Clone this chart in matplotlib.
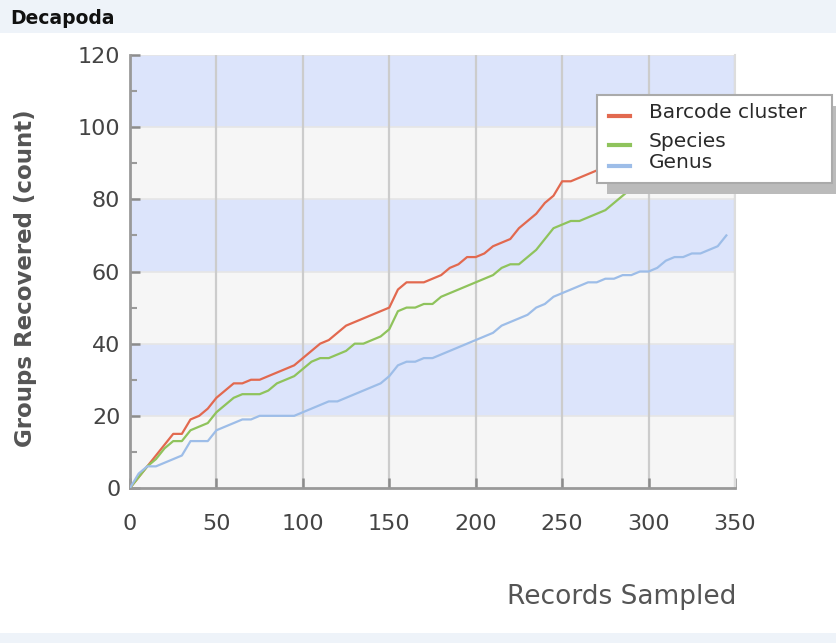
#!/usr/bin/python3

"""
Decapoda accumulation curves: groups recovered vs records sampled.
"""

import matplotlib
matplotlib.use("Agg")
import matplotlib.pyplot as plt
from matplotlib.lines import Line2D
from matplotlib.patches import Rectangle


# Records sampled, every 5 records.
records = list(range(0, 350, 5))

barcode_cluster = [
    0, 3, 6, 9, 12, 15, 15, 19, 20, 22,
    25, 27, 29, 29, 30, 30, 31, 32, 33, 34,
    36, 38, 40, 41, 43, 45, 46, 47, 48, 49,
    50, 55, 57, 57, 57, 58, 59, 61, 62, 64,
    64, 65, 67, 68, 69, 72, 74, 76, 79, 81,
    85, 85, 86, 87, 88, 89, 90, 92, 93, 94,
    95, 97, 98, 99, 100, 101, 102, 103, 104, 105,
]
species = [
    0, 3, 6, 8, 11, 13, 13, 16, 17, 18,
    21, 23, 25, 26, 26, 26, 27, 29, 30, 31,
    33, 35, 36, 36, 37, 38, 40, 40, 41, 42,
    44, 49, 50, 50, 51, 51, 53, 54, 55, 56,
    57, 58, 59, 61, 62, 62, 64, 66, 69, 72,
    73, 74, 74, 75, 76, 77, 79, 81, 83, 86,
    87, 88, 89, 90, 91, 91, 92, 93, 94, 95,
]
genus = [
    0, 4, 6, 6, 7, 8, 9, 13, 13, 13,
    16, 17, 18, 19, 19, 20, 20, 20, 20, 20,
    21, 22, 23, 24, 24, 25, 26, 27, 28, 29,
    31, 34, 35, 35, 36, 36, 37, 38, 39, 40,
    41, 42, 43, 45, 46, 47, 48, 50, 51, 53,
    54, 55, 56, 57, 57, 58, 58, 59, 59, 60,
    60, 61, 63, 64, 64, 65, 65, 66, 67, 70,
]

series_names = ["Barcode cluster", "Species", "Genus"]
series_colors = ["#e2694f", "#8fc35c", "#9dbde8"]

x_ticks = [0, 50, 100, 150, 200, 250, 300, 350]
y_ticks = [0, 20, 40, 60, 80, 100, 120]

W, H = 836, 643


def fx(px):
    return px / W


def fy(py):
    return 1 - py / H


def draw_frame(fig):
    # light header and footer strips
    fig.patches.append(Rectangle((0, fy(33)), 1, 33 / H, transform=fig.transFigure,
                                 facecolor="#eef3f9", edgecolor="none", zorder=0))
    fig.patches.append(Rectangle((0, 0), 1, 10 / H, transform=fig.transFigure,
                                 facecolor="#eef3f9", edgecolor="none", zorder=0))
    fig.text(fx(10), fy(18), "Decapoda", fontsize=13.5, fontweight="bold",
             color="#111111", va="center", ha="left")


def draw_bands(ax):
    band_colors = ["#f6f6f6", "#dce4fb"]
    for i in range(len(y_ticks) - 1):
        ax.axhspan(y_ticks[i], y_ticks[i + 1], color=band_colors[i % 2],
                   lw=0, zorder=0)
        ax.axhline(y_ticks[i + 1], color="#e6e6e6", lw=1.2, zorder=0.5)
    for x in x_ticks[1:]:
        ax.axvline(x, color="#cccccc", lw=1.6, zorder=0.6)


def draw_legend(fig):
    x0, y0, x1, y1 = 597, 95, 832, 183
    fig.patches.append(Rectangle((fx(x0 + 10), fy(y1 + 11)), (x1 - x0) / W, (y1 - y0) / H,
                                 transform=fig.transFigure, facecolor="#bbbbbb",
                                 edgecolor="none", zorder=5))
    fig.patches.append(Rectangle((fx(x0), fy(y1)), (x1 - x0) / W, (y1 - y0) / H,
                                 transform=fig.transFigure, facecolor="white",
                                 edgecolor="#aaaaaa", lw=1.5, zorder=6))
    rows = [(116, 113), (145, 141), (166, 163)]
    for (line_y, text_y), name, color in zip(rows, series_names, series_colors):
        fig.add_artist(Line2D([fx(609), fx(630)], [fy(line_y), fy(line_y)],
                              transform=fig.transFigure, color=color, lw=3,
                              zorder=7))
        fig.text(fx(649), fy(text_y), name, fontsize=14.5, color="#2a2a2a",
                 va="center", ha="left", zorder=8)


def main():
    fig = plt.figure(figsize=(W / 100, H / 100), dpi=100)
    fig.patch.set_facecolor("white")
    ax = fig.add_axes([fx(130), fy(488), (735 - 130) / W, (488 - 55) / H])

    draw_frame(fig)
    draw_bands(ax)

    for values, name, color in zip([barcode_cluster, species, genus],
                                   series_names, series_colors):
        ax.plot(records, values, color=color, lw=1.6, label=name, zorder=3)

    ax.set_xlim(0, 350)
    ax.set_ylim(0, 120)
    ax.set_xticks(x_ticks)
    ax.set_yticks(y_ticks)
    ax.set_yticks(range(10, 120, 20), minor=True)
    ax.tick_params(axis="both", which="major", direction="in", length=7,
                   width=1.8, color="#8c8c8c", labelsize=16, labelcolor="#444444")
    ax.tick_params(axis="x", pad=19)
    ax.tick_params(axis="y", pad=7)
    ax.tick_params(axis="y", which="minor", direction="in", length=5,
                   width=1.5, color="#9a9a9a")

    ax.spines["top"].set_visible(False)
    ax.spines["right"].set_color("#dddddd")
    ax.spines["right"].set_linewidth(1.5)
    for side in ("left", "bottom"):
        ax.spines[side].set_color("#999999")
        ax.spines[side].set_linewidth(2)

    ax.set_ylabel("Groups Recovered (count)", fontsize=16.5, fontweight="bold",
                  color="#555555")
    ax.yaxis.set_label_coords(-0.154, 0.484)
    ax.text(1.003, -0.252, "Records Sampled", transform=ax.transAxes,
            fontsize=19, color="#555555", ha="right", va="center")

    draw_legend(fig)

    fig.savefig("out.png", dpi=100)


if __name__ == "__main__":
    main()
